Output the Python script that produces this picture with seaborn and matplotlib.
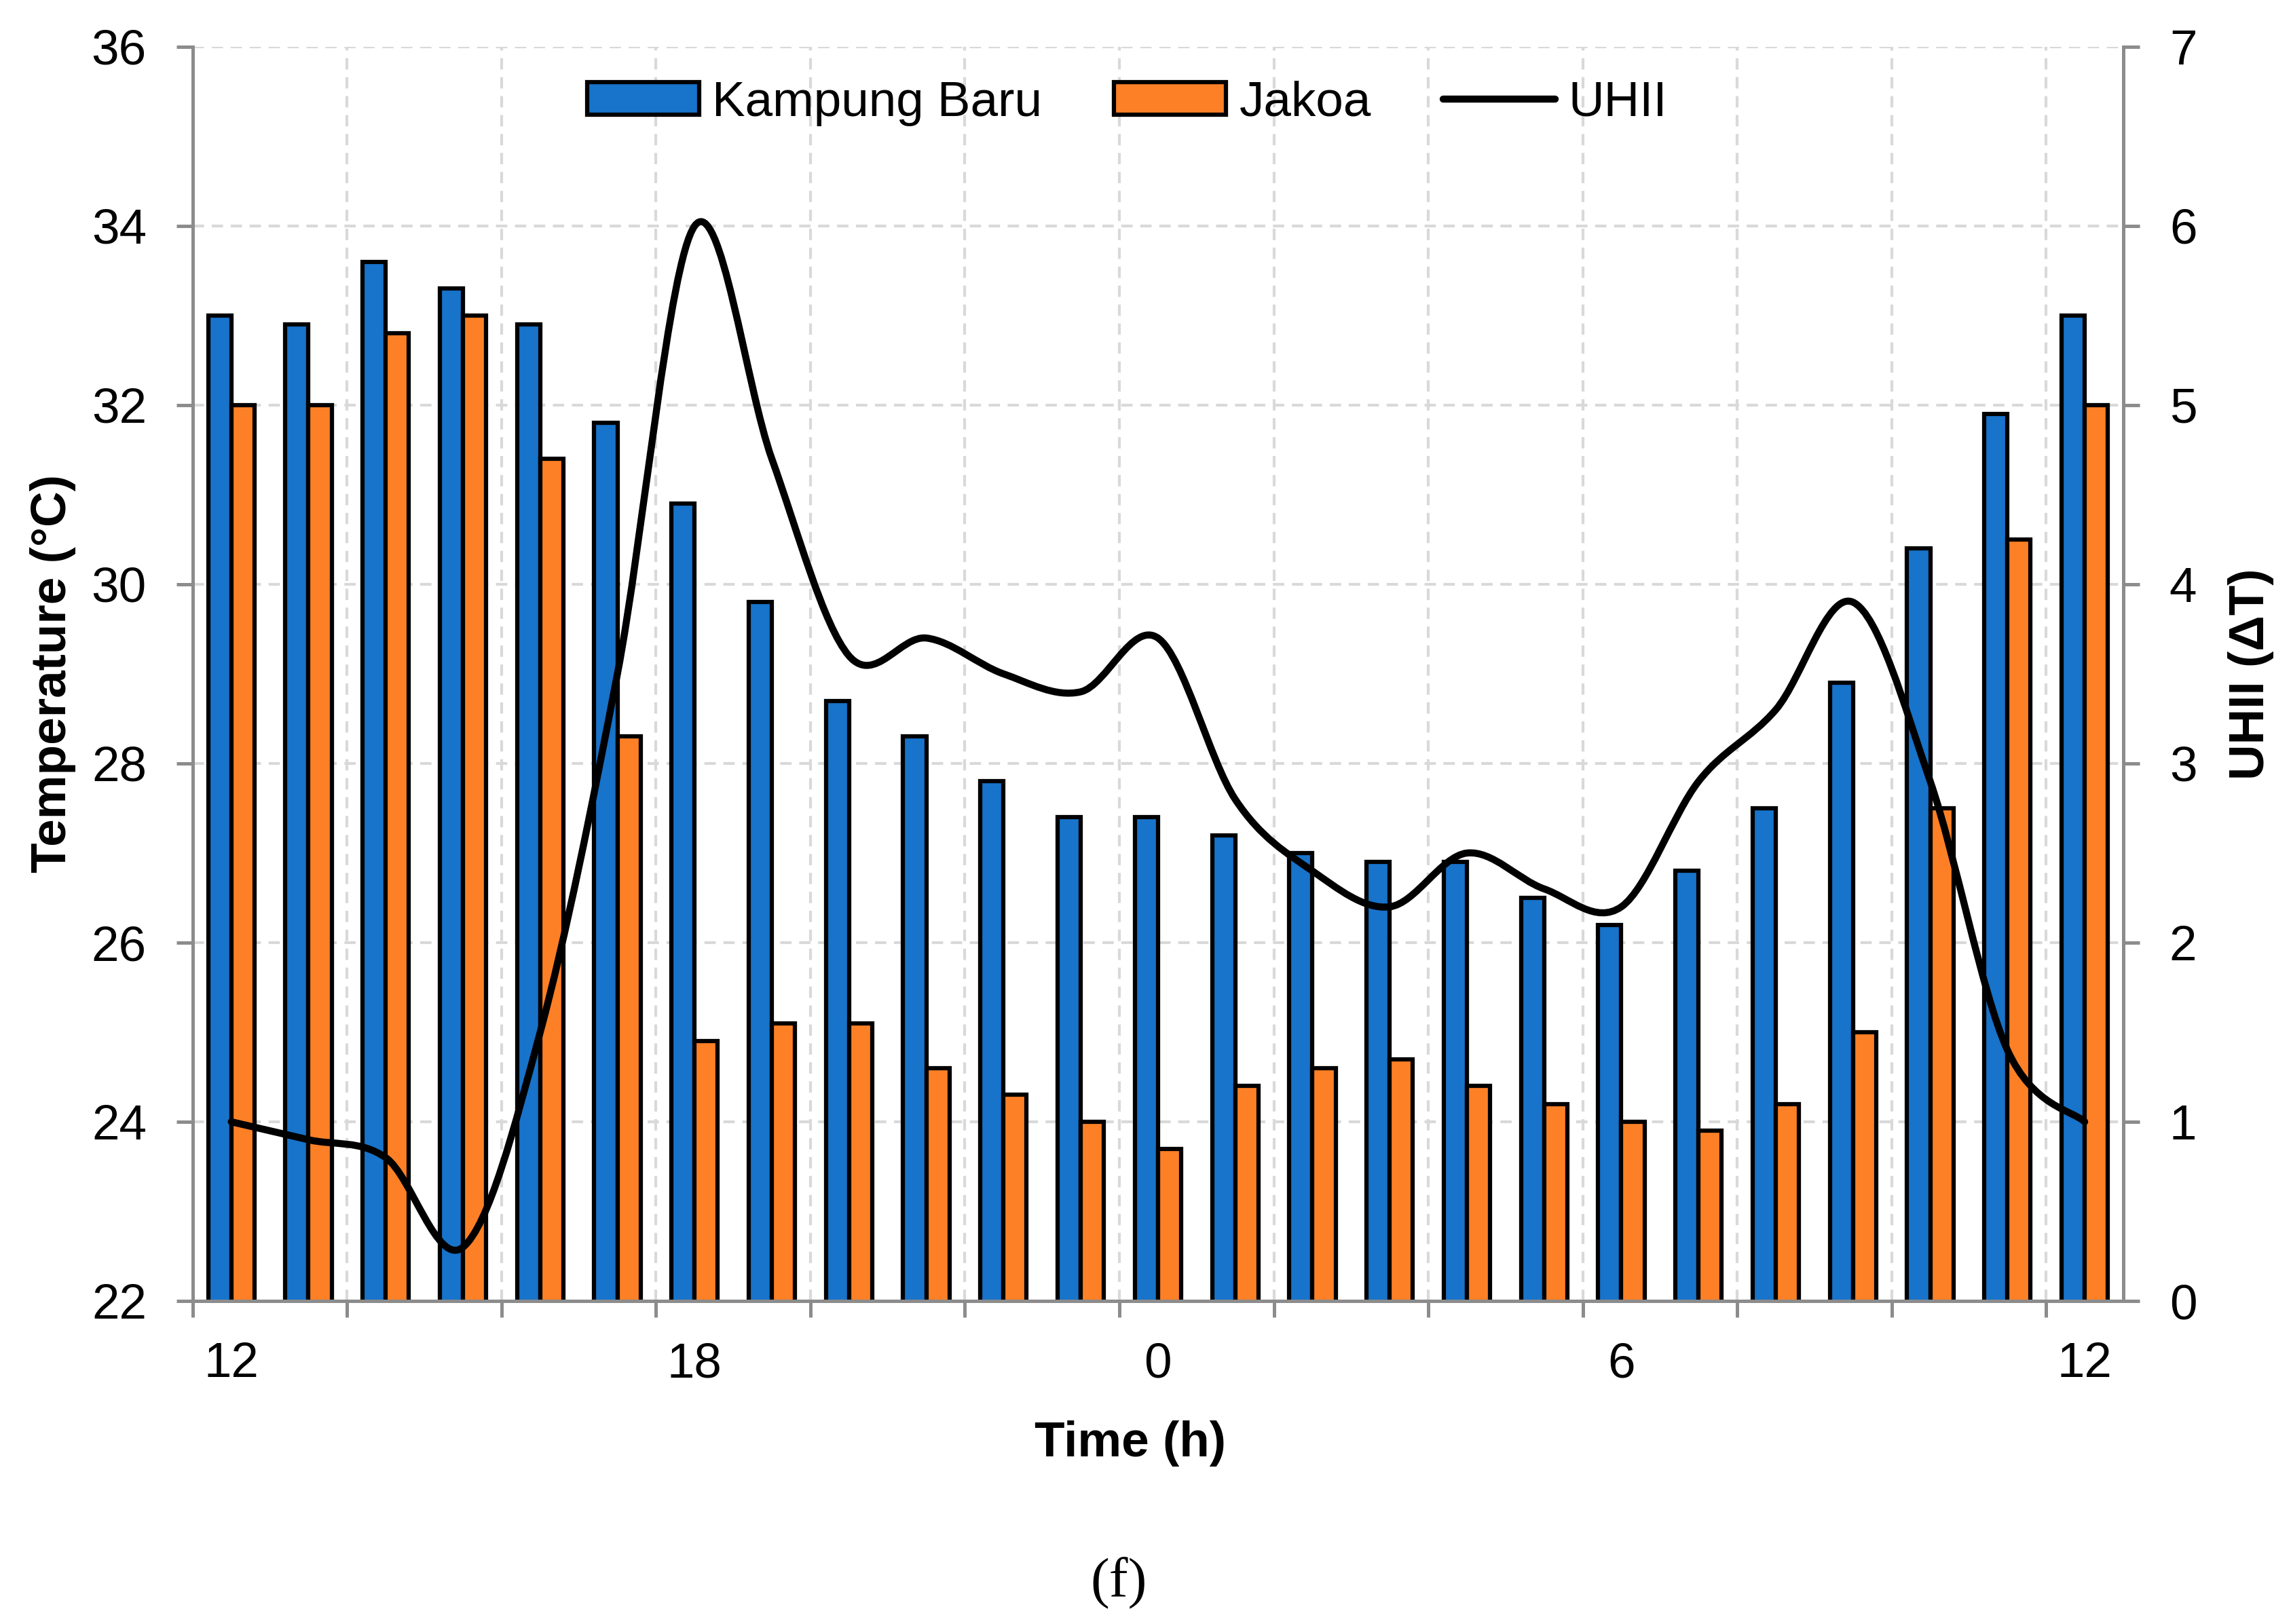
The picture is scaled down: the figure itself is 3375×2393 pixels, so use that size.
import pandas as pd
import matplotlib
matplotlib.use("Agg")
import matplotlib.pyplot as plt
from matplotlib.path import Path
from matplotlib.patches import PathPatch
from matplotlib.lines import Line2D
import seaborn as sns

# Hourly data, noon to noon
hours = [12, 13, 14, 15, 16, 17, 18, 19, 20, 21, 22, 23,
         0, 1, 2, 3, 4, 5, 6, 7, 8, 9, 10, 11, 12]
kampung_baru = [33.0, 32.9, 33.6, 33.3, 32.9, 31.8, 30.9, 29.8, 28.7, 28.3, 27.8, 27.4,
                27.4, 27.2, 27.0, 26.9, 26.9, 26.5, 26.2, 26.8, 27.5, 28.9, 30.4, 31.9, 33.0]
jakoa = [32.0, 32.0, 32.8, 33.0, 31.4, 28.3, 24.9, 25.1, 25.1, 24.6, 24.3, 24.0,
         23.7, 24.4, 24.6, 24.7, 24.4, 24.2, 24.0, 23.9, 24.2, 25.0, 27.5, 30.5, 32.0]
uhii = [1.0, 0.9, 0.8, 0.3, 1.5, 3.5, 6.0, 4.7, 3.6, 3.7, 3.5, 3.4,
        3.7, 2.8, 2.4, 2.2, 2.5, 2.3, 2.2, 2.9, 3.3, 3.9, 2.9, 1.4, 1.0]
sites = ["Kampung Baru", "Jakoa"]
colors = ["#1873CA", "#FE8026"]
label_pos = [0, 6, 12, 18, 24]

pos = list(range(len(hours)))
df = pd.DataFrame({
    "pos": pos * 2,
    "temp": kampung_baru + jakoa,
    "site": [sites[0]] * len(pos) + [sites[1]] * len(pos),
})

sns.set_style("white")
plt.rcParams["font.family"] = ["Liberation Sans", "DejaVu Sans"]
plt.rcParams["text.color"] = "black"
plt.rcParams["axes.labelcolor"] = "black"

grey = "#8c8c8c"
fs = 17.5

fig = plt.figure(figsize=(11.25, 7.9767), dpi=300)
ax = fig.add_axes([0.0841, 0.1989, 0.9268 - 0.0841, 0.9712 - 0.1989])

sns.barplot(data=df, x="pos", y="temp", hue="site", hue_order=sites,
            palette=colors, width=0.6, saturation=1, edgecolor="black",
            linewidth=1.5, legend=False, ax=ax)

ax.set_xlim(-0.5, 24.5)
ax.set_ylim(22, 36)
ax.set_yticks(range(22, 37, 2))
ax.set_xticks([p - 0.5 for p in range(0, 25, 2)])
ax.set_xticklabels([])
ax.set_xticks(label_pos, minor=True)
ax.set_xticklabels([str(hours[i]) for i in label_pos], minor=True)
ax.tick_params(axis="x", which="major", direction="out", length=5.8, width=1.2,
               color=grey, labelbottom=False, bottom=True)
ax.tick_params(axis="x", which="minor", length=0, pad=14.5, labelsize=fs,
               labelcolor="black")
ax.tick_params(axis="y", direction="out", length=5.8, width=1.2, color=grey,
               pad=10.5, labelsize=fs, labelcolor="black", left=True)

ax.set_axisbelow(True)
ax.grid(True, which="major", color="#d9d9d9", linewidth=1.0,
        linestyle=(0, (4, 2.7)))
for s in ["top", "right"]:
    ax.spines[s].set_visible(False)
for s in ["left", "bottom"]:
    ax.spines[s].set_color(grey)
    ax.spines[s].set_linewidth(1.2)

ax.set_xlabel("Time (h)", fontsize=fs, fontweight="bold")
ax.xaxis.set_label_coords(0.4856, -0.095)
ax.set_ylabel("Temperature (°C)", fontsize=fs, fontweight="bold")
ax.yaxis.set_label_coords(-0.0605, 0.5)

# secondary axis: smoothed UHII line
ax2 = ax.twinx()
ax2.set_ylim(0, 7)
ax2.set_yticks(range(0, 8))
ax2.grid(False)
ax2.tick_params(axis="y", direction="out", length=5.8, width=1.2, color=grey,
                pad=10.5, labelsize=fs, labelcolor="black", right=True)
for s in ["top", "left", "bottom"]:
    ax2.spines[s].set_visible(False)
ax2.spines["right"].set_color(grey)
ax2.spines["right"].set_linewidth(1.2)
ax2.set_ylabel("UHII (ΔT)", fontsize=fs, fontweight="bold")
ax2.yaxis.set_label_coords(1.054, 0.5)

# Excel-style smoothing: cubic bezier segments through each point
n = len(uhii)
verts = [(pos[0], uhii[0])]
codes = [Path.MOVETO]
for i in range(n - 1):
    x0, y0 = pos[max(i - 1, 0)], uhii[max(i - 1, 0)]
    x1, y1 = pos[i], uhii[i]
    x2, y2 = pos[i + 1], uhii[i + 1]
    x3, y3 = pos[min(i + 2, n - 1)], uhii[min(i + 2, n - 1)]
    verts += [(x1 + (x2 - x0) / 6, y1 + (y2 - y0) / 6),
              (x2 - (x3 - x1) / 6, y2 - (y3 - y1) / 6),
              (x2, y2)]
    codes += [Path.CURVE4] * 3
ax2.add_patch(PathPatch(Path(verts, codes), fill=False, edgecolor="black",
                        linewidth=2.5, capstyle="round", joinstyle="round"))

handles = [ax.containers[0].patches[0], ax.containers[1].patches[0],
           Line2D([], [], color="black", linewidth=2.5, solid_capstyle="round")]
ax2.legend(handles, sites + ["UHII"], loc="center", bbox_to_anchor=(0.484, 0.955),
           ncol=3, frameon=False, fontsize=fs, handlelength=2.26, handleheight=0.62,
           handletextpad=0.27, columnspacing=1.45)

fig.text(1648 / 3375, 1 - 2332 / 2393, "(f)", ha="center", va="center",
         fontsize=20, family="Liberation Serif")

fig.savefig("out.png", dpi=300)
